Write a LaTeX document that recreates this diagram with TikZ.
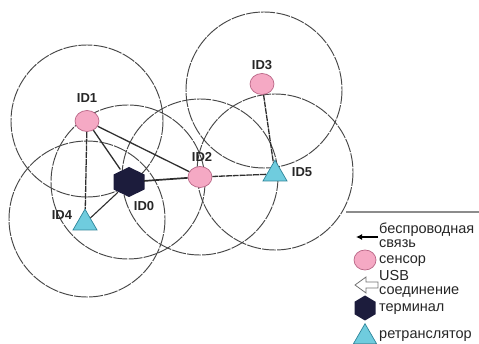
\documentclass[tikz,border=0pt]{standalone}
\usepackage{fontspec}
\setmainfont{Liberation Sans}
\usetikzlibrary{shapes.geometric,arrows.meta}
\definecolor{sensorfill}{HTML}{F5A9C4}
\definecolor{sensorline}{HTML}{B86585}
\definecolor{relayfill}{HTML}{6FCCDE}
\definecolor{relayline}{HTML}{2E8499}
\definecolor{termfill}{HTML}{1C1C3C}
\begin{document}
\begin{tikzpicture}[x=1pt,y=-1pt,
  rangecircle/.style={draw=black!72, line width=0.95pt, dash pattern=on 14pt off 1.2pt},
  sensor/.style={ellipse, draw=sensorline, fill=sensorfill, line width=0.7pt, minimum width=24pt, minimum height=21pt, inner sep=0pt},
  relay/.style={regular polygon, regular polygon sides=3, draw=relayline, fill=relayfill, line width=0.7pt, minimum size=27.7pt, inner sep=0pt},
  hexanchor/.style={circle, minimum size=30pt, inner sep=0pt},
  idlabel/.style={font=\fontsize{13}{15}\selectfont\bfseries, text=black!85, inner sep=0pt},
  legtext/.style={font=\fontsize{14.5}{16}\selectfont, text=black!85, inner sep=0pt, anchor=base west},
  link/.style={draw=black!82, line width=1.3pt},
  wlink/.style={link, dash pattern=on 6pt off 0.8pt},
]
\useasboundingbox (0,0) rectangle (479,344);
% range circles
\draw[rangecircle] (87,121) circle (76);
\draw[rangecircle] (128,182) circle (77);
\draw[rangecircle] (87,219) circle (78);
\draw[rangecircle] (200,177) circle (78);
\draw[rangecircle] (264,90) circle (78);
\draw[rangecircle] (275,172) circle (78);
% nodes
\node[sensor] (id1) at (87,121) {};
\node[sensor] (id2) at (200,177) {};
\node[sensor] (id3) at (262,84) {};
\node[relay] (id4) at (85,223) {};
\node[relay] (id5) at (275,174) {};
\node[hexanchor] (id0) at (129,182) {};
\fill[termfill] (id0) ++(0,-15) -- ++(15.5,7.5) -- ++(0,15) -- ++(-15.5,7.5) -- ++(-15.5,-7.5) -- ++(0,-15) -- cycle;
% labels
\node[idlabel] (l1) at (87,98) {ID1};
\node[idlabel] (l2) at (202,157) {ID2};
\node[idlabel] (l3) at (262,65) {ID3};
\node[idlabel] (l4) at (62,215) {ID4};
\node[idlabel] (l0) at (144,206) {ID0};
\node[idlabel] (l5) at (302,172) {ID5};
% links
\draw[link] (id1) -- (id0);
\draw[link] (id1) -- (id2);
\draw[link, line width=1.7pt] (id0) -- (id2);
\draw[link, line width=1.1pt] (id0) -- (id4);
\draw[wlink] (id1) -- (id4);
\draw[wlink] (id2) -- (id5);
\draw[wlink] (id3) -- (id5);
% legend
\coordinate (legL) at (346,212);
\coordinate (legR) at (479,212);
\draw[black!45, line width=1.6pt] (legL) -- (legR);
\coordinate (wa1) at (378,237);
\coordinate (wa2) at (356,237);
\draw[black, line width=1.5pt, -{Latex[length=6pt,width=6pt]}] (wa1) -- (wa2);
\node[legtext] (t1) at (379,234) {беспроводная};
\node[legtext] (t2) at (379,248) {связь};
\node[sensor, minimum width=22pt, minimum height=20pt] (ls) at (365,260) {};
\node[legtext] (t3) at (379,264) {сенсор};
\coordinate (usb) at (366,285);
\draw[black!55, fill=white, line width=0.8pt] (usb) ++(12,-3) -- ++(-12,0) -- ++(0,-5) -- ++(-11,8) -- ++(11,8) -- ++(0,-5) -- ++(12,0) -- cycle;
\node[legtext] (t4) at (379,281) {USB};
\node[legtext] (t5) at (379,295) {соединение};
\coordinate (lh) at (365,308);
\fill[termfill] (lh) ++(0,-12.5) -- ++(10.5,6.25) -- ++(0,12.5) -- ++(-10.5,6.25) -- ++(-10.5,-6.25) -- ++(0,-12.5) -- cycle;
\node[legtext] (t6) at (379,312) {терминал};
\node[relay, minimum size=26.6pt] (lr) at (365,337) {};
\node[legtext] (t7) at (379,339) {ретранслятор};
\end{tikzpicture}
\end{document}
